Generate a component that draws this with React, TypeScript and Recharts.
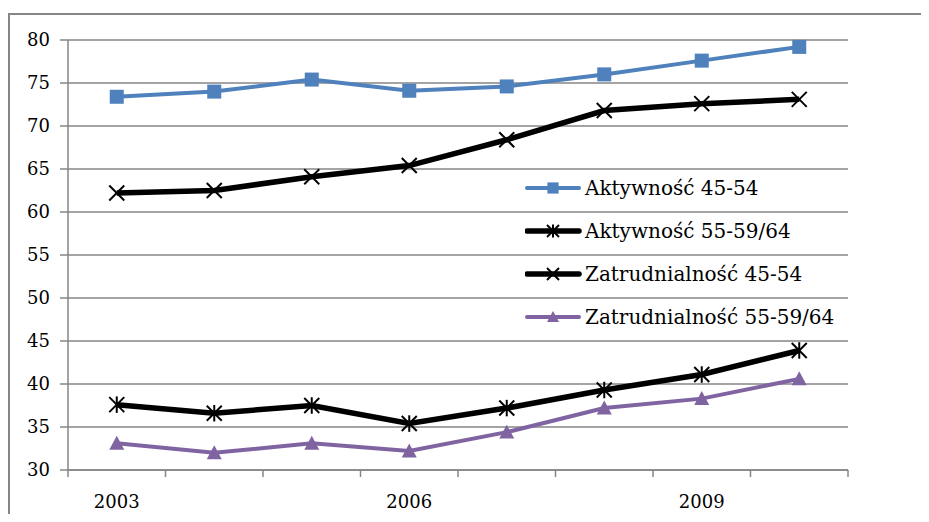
import {
  CartesianGrid,
  Legend,
  Line,
  LineChart,
  XAxis,
  YAxis,
} from "recharts";

const years = [2003, 2004, 2005, 2006, 2007, 2008, 2009, 2010];
const aktywnosc4554 = [73.4, 74.0, 75.4, 74.1, 74.6, 76.0, 77.6, 79.2];
const aktywnosc5559 = [37.6, 36.6, 37.5, 35.4, 37.2, 39.3, 41.1, 43.9];
const zatrudnialnosc4554 = [62.2, 62.5, 64.1, 65.4, 68.4, 71.8, 72.6, 73.1];
const zatrudnialnosc5559 = [33.1, 32.0, 33.1, 32.2, 34.4, 37.2, 38.3, 40.6];

const yTicks = [30, 35, 40, 45, 50, 55, 60, 65, 70, 75, 80];
const xLabels = [2003, 2006, 2009];
const xBounds = [2002.5, 2003.5, 2004.5, 2005.5, 2006.5, 2007.5, 2008.5, 2009.5, 2010.5];

const data = years.map((year, i) => ({
  year,
  a4554: aktywnosc4554[i],
  a5559: aktywnosc5559[i],
  z4554: zatrudnialnosc4554[i],
  z5559: zatrudnialnosc5559[i],
}));

const FONT = "'DejaVu Serif'";
const GRAY = "#868686";

type Marker = "square" | "star" | "cross" | "triangle";

function drawMarker(kind: Marker, cx: number, cy: number, color: string, s = 1) {
  if (kind === "square") {
    const h = 7 * s;
    return <rect x={cx - h} y={cy - h} width={h * 2} height={h * 2} fill={color} />;
  }
  if (kind === "triangle") {
    const h = 7.5 * s;
    return (
      <polygon
        points={`${cx},${cy - h} ${cx + h},${cy + h * 0.85} ${cx - h},${cy + h * 0.85}`}
        fill={color}
      />
    );
  }
  const h = 7.5 * s;
  return (
    <g stroke={color} strokeWidth={2}>
      <line x1={cx - h} y1={cy - h} x2={cx + h} y2={cy + h} />
      <line x1={cx - h} y1={cy + h} x2={cx + h} y2={cy - h} />
      {kind === "star" && <line x1={cx} y1={cy - h * 1.1} x2={cx} y2={cy + h * 1.1} />}
    </g>
  );
}

const series = [
  { key: "a4554", name: "Aktywność 45-54", color: "#4F81BD", width: 4, marker: "square" as Marker },
  { key: "a5559", name: "Aktywność 55-59/64", color: "#000000", width: 5.5, marker: "star" as Marker },
  { key: "z4554", name: "Zatrudnialność 45-54", color: "#000000", width: 5.5, marker: "cross" as Marker },
  { key: "z5559", name: "Zatrudnialność 55-59/64", color: "#8064A2", width: 4, marker: "triangle" as Marker },
];

function YTick(props: any) {
  const { x, y, payload } = props;
  return (
    <text x={x} y={y} dy={6} textAnchor="end" fill="#000" fontSize={18} fontFamily={FONT}>
      {payload.value}
    </text>
  );
}

function XTick(props: any) {
  const { x, y, payload } = props;
  return (
    <text x={x} y={y} dy={13} textAnchor="middle" fill="#000" fontSize={18} fontFamily={FONT}>
      {payload.value}
    </text>
  );
}

function LegendBox() {
  return (
    <div style={{ fontFamily: FONT, fontSize: 20, color: "#000" }}>
      {series.map((s) => (
        <div key={s.key} style={{ display: "flex", alignItems: "center", height: 43 }}>
          <svg width={58} height={20} style={{ marginRight: 2 }}>
            <line x1={2} y1={10} x2={54} y2={10} stroke={s.color} strokeWidth={s.width} strokeLinecap="round" />
            {drawMarker(s.marker, 28, 10, s.color, 0.8)}
          </svg>
          <span>{s.name}</span>
        </div>
      ))}
    </div>
  );
}

export default function App() {
  return (
    <div style={{ position: "relative", width: 913, height: 506, fontFamily: FONT }}>
      <svg
        width={921}
        height={506}
        style={{ position: "absolute", left: 0, top: 0, overflow: "hidden" }}
      >
        <line x1={0} y1={6} x2={921} y2={6} stroke={GRAY} strokeWidth={2} />
        <line x1={1} y1={6} x2={1} y2={506} stroke={GRAY} strokeWidth={2} />
      </svg>
      <LineChart
        width={913}
        height={506}
        data={data}
        margin={{ top: 32, right: 73, bottom: 0, left: 0 }}
        style={{ position: "absolute", left: 0, top: 0 }}
      >
        <CartesianGrid xAxisId="labels" vertical={false} stroke={GRAY} strokeWidth={1.5} />
        <XAxis
          xAxisId="bounds"
          dataKey="year"
          type="number"
          domain={[2002.5, 2010.5]}
          ticks={xBounds}
          interval={0}
          tickFormatter={() => ""}
          height={8}
          tickSize={7}
          stroke={GRAY}
          strokeWidth={1.5}
        />
        <XAxis
          xAxisId="labels"
          dataKey="year"
          type="number"
          domain={[2002.5, 2010.5]}
          ticks={xLabels}
          interval={0}
          axisLine={false}
          tickLine={false}
          tickSize={0}
          tickMargin={17}
          height={36}
          tick={<XTick />}
        />
        <YAxis
          domain={[30, 80]}
          ticks={yTicks}
          interval={0}
          width={60}
          tickSize={8}
          tickMargin={10}
          stroke={GRAY}
          strokeWidth={1.5}
          tick={<YTick />}
        />
        <Legend
          layout="vertical"
          align="center"
          verticalAlign="middle"
          content={() => <LegendBox />}
          wrapperStyle={{ left: 517, top: 158, width: 360 }}
        />
        {series.map((s) => (
          <Line
            key={s.key}
            xAxisId="labels"
            dataKey={s.key}
            name={s.name}
            stroke={s.color}
            strokeWidth={s.width}
            isAnimationActive={false}
            dot={(p: any) => <g key={`${s.key}-${p.index}`}>{drawMarker(s.marker, p.cx, p.cy, s.color)}</g>}
            activeDot={false}
          />
        ))}
      </LineChart>
    </div>
  );
}
